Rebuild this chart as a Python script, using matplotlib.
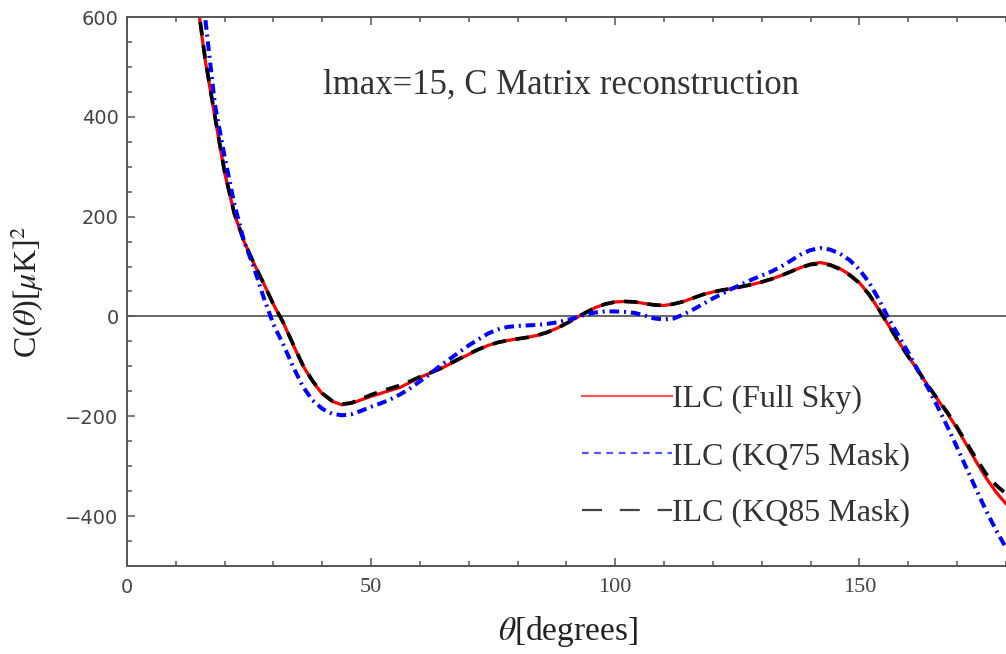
import matplotlib.pyplot as plt
from matplotlib.lines import Line2D
from matplotlib.ticker import MultipleLocator

plt.rcParams['font.family'] = ['Liberation Serif', 'DejaVu Serif']
plt.rcParams['mathtext.fontset'] = 'stix'

# angles in degrees (shared by the three curves)
theta = [14, 16, 18, 20, 22, 24, 26, 28, 30, 32, 34, 36, 38, 40, 42, 44, 46, 48,
         50, 52, 54, 56, 58, 60, 62, 64, 66, 68, 70, 72, 74, 76, 78, 80, 82, 84,
         86, 88, 90, 92, 94, 96, 98, 100, 102, 104, 106, 108, 110, 112, 114, 116,
         118, 120, 122, 124, 126, 128, 130, 132, 134, 136, 138, 140, 142, 144,
         146, 148, 150, 152, 154, 156, 158, 160, 162, 164, 166, 168, 170, 172,
         174, 176, 178, 180]

full_sky = [660, 515, 400, 288, 205, 150, 106, 66, 24, -12, -56, -98, -130, -155,
            -170, -177, -174, -167, -160, -154, -148, -142, -132, -122, -114, -106,
            -96, -86, -76, -66, -58, -52, -48, -45, -42, -38, -32, -24, -14, -3,
            8, 18, 25, 29, 30, 29, 26, 23, 22, 25, 30, 37, 44, 49, 53, 56, 60, 64,
            69, 75, 82, 90, 98, 105, 108, 104, 96, 84, 68, 44, 14, -18, -50, -80,
            -108, -138, -166, -194, -224, -258, -292, -324, -352, -375]

kq75 = [760, 600, 425, 320, 225, 150, 98, 38, -16, -56, -100, -140, -168, -185,
        -195, -198, -196, -189, -181, -174, -166, -156, -144, -130, -116, -100,
        -86, -72, -58, -46, -34, -26, -21, -19, -18, -17, -15, -12, -8, -2, 4, 8,
        10, 10, 9, 7, 2, -4, -6, -4, 4, 14, 25, 36, 46, 56, 65, 74, 82, 90, 100,
        112, 124, 133, 137, 134, 126, 113, 94, 68, 34, -4, -38, -72, -108, -142,
        -180, -220, -262, -305, -348, -390, -428, -463]

kq85 = [665, 518, 402, 290, 206, 150, 106, 66, 24, -12, -55, -97, -129, -154,
        -169, -176, -173, -165, -157, -150, -144, -138, -130, -121, -113, -105,
        -95, -85, -75, -66, -58, -52, -48, -45, -42, -38, -32, -24, -14, -3, 8,
        18, 25, 29, 30, 29, 26, 23, 22, 25, 30, 37, 44, 49, 53, 56, 60, 64, 69,
        75, 82, 90, 98, 104, 106, 103, 95, 83, 67, 44, 14, -18, -50, -80, -108,
        -138, -165, -192, -222, -254, -286, -316, -338, -355]

labels = ['ILC (Full Sky)', 'ILC (KQ75 Mask)', 'ILC (KQ85 Mask)']

fig = plt.figure(figsize=(10.06, 6.54), dpi=100)
ax = fig.add_axes([0.1262, 0.1346, 0.8736, 0.8394])

ax.axhline(0, color='#666666', lw=1.4, zorder=1)
ax.plot(theta, full_sky, color='red', lw=2.3, zorder=2)
ax.plot(theta, kq85, color='black', lw=2.7, dashes=(3.6, 2.6), zorder=3)
ax.plot(theta, kq75, color='blue', lw=2.9, dashes=(2.4, 1.2, 0.5, 1.2), zorder=4)

ax.set_xlim(0, 180)
ax.set_ylim(-500, 600)

ax.xaxis.set_major_locator(MultipleLocator(50))
ax.xaxis.set_minor_locator(MultipleLocator(10))
ax.yaxis.set_major_locator(MultipleLocator(200))
ax.yaxis.set_minor_locator(MultipleLocator(50))
ax.tick_params(which='both', direction='in', top=True, right=False, color='#555555', width=1.1)
ax.tick_params(which='major', length=6)
ax.tick_params(which='minor', length=3.5)
ax.tick_params(axis='y', labelsize=14, labelcolor='#444444', pad=6)
ax.tick_params(axis='x', labelsize=16, labelcolor='#444444', pad=9)

for lab in ax.get_yticklabels():
    lab.set_fontfamily('DejaVu Sans')
for lab in ax.get_xticklabels():
    if lab.get_text() in ('0', ''):
        lab.set_fontfamily('DejaVu Sans')
        lab.set_fontsize(14)

for side in ['left', 'top', 'bottom']:
    ax.spines[side].set_color('#555555')
    ax.spines[side].set_linewidth(1.4)
ax.spines['right'].set_visible(False)

ax.set_xlabel(r'$\theta$[degrees]', fontsize=24, color='#222222')
ax.xaxis.set_label_coords(0.502, -0.087)
ax.set_ylabel(r'C($\theta$)[$\mu$K]$^2$', fontsize=23, color='#222222')
ax.yaxis.set_label_coords(-0.092, 0.5)

ax.text(0.494, 0.876, 'lmax=15, C Matrix reconstruction', transform=ax.transAxes,
        ha='center', va='center', fontsize=25, color='#333333')

handles = [Line2D([], [], color='#ff5555', lw=1.6),
           Line2D([], [], color='#5555ff', lw=1.6, dashes=(3, 2.5)),
           Line2D([], [], color='#444444', lw=1.6, dashes=(9, 8))]
leg = ax.legend(handles, labels, loc='center left', bbox_to_anchor=(0.518, 0.2),
                frameon=False, fontsize=23, handlelength=2.8, handletextpad=0.0,
                labelspacing=0.86, borderpad=0, borderaxespad=0)
for t in leg.get_texts():
    t.set_color('#333333')

fig.savefig('out.png', dpi=100)
